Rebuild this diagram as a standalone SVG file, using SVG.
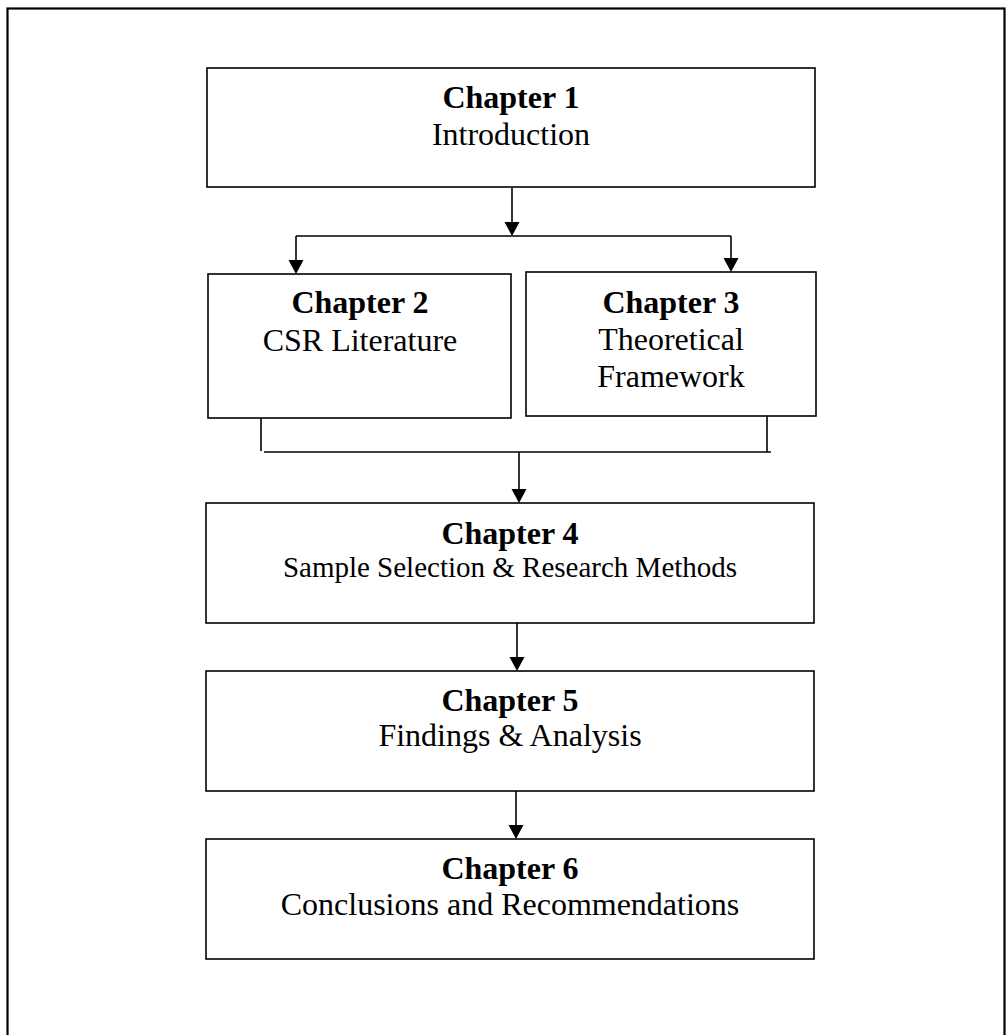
<svg xmlns="http://www.w3.org/2000/svg" width="1008" height="1035" viewBox="0 0 1008 1035">
<defs>
<style>
.box{fill:#fff;stroke:#000;stroke-width:1.6}
.ln{fill:none;stroke:#000;stroke-width:1.6}
.ah{fill:#000}
.b{font-family:"Liberation Serif","Times New Roman",serif;font-weight:bold;font-size:32px;fill:#000;text-anchor:middle}
.r{font-family:"Liberation Serif","Times New Roman",serif;font-size:32px;fill:#000;text-anchor:middle}
.s{font-size:29px}
</style>
</defs>
<rect x="7.5" y="8.5" width="997" height="1060" fill="none" stroke="#000" stroke-width="2.2"/>
<g id="connectors">
<line class="ln" x1="512" y1="188" x2="512" y2="222"/>
<path class="ah" d="M504.5,222 L519.5,222 L512,236 Z"/>
<line class="ln" x1="296" y1="236" x2="731" y2="236"/>
<line class="ln" x1="296" y1="236" x2="296" y2="260"/>
<path class="ah" d="M288.5,260 L303.5,260 L296,274 Z"/>
<line class="ln" x1="731" y1="236" x2="731" y2="258"/>
<path class="ah" d="M723.5,258 L738.5,258 L731,272 Z"/>
<line class="ln" x1="261" y1="415" x2="261" y2="451"/>
<line class="ln" x1="767" y1="416" x2="767" y2="452"/>
<line class="ln" x1="264" y1="452" x2="771" y2="452"/>
<line class="ln" x1="519" y1="452" x2="519" y2="489"/>
<path class="ah" d="M511.5,489 L526.5,489 L519,503 Z"/>
<line class="ln" x1="517" y1="623" x2="517" y2="657"/>
<path class="ah" d="M509.5,657 L524.5,657 L517,671 Z"/>
<line class="ln" x1="516" y1="791" x2="516" y2="825"/>
<path class="ah" d="M508.5,825 L523.5,825 L516,839 Z"/>
</g>
<g id="ch1">
<rect class="box" x="207" y="68" width="608" height="119"/>
<text class="b" x="511" y="108">Chapter 1</text>
<text class="r" x="511" y="145">Introduction</text>
</g>
<g id="ch2">
<rect class="box" x="208" y="274" width="303" height="144"/>
<text class="b" x="360" y="313">Chapter 2</text>
<text class="r" x="360" y="351">CSR Literature</text>
</g>
<g id="ch3">
<rect class="box" x="526" y="272" width="290" height="144"/>
<text class="b" x="671" y="313">Chapter 3</text>
<text class="r" x="671" y="350">Theoretical</text>
<text class="r" x="671" y="387">Framework</text>
</g>
<g id="ch4">
<rect class="box" x="206" y="503" width="608" height="120"/>
<text class="b" x="510" y="544">Chapter 4</text>
<text class="r s" x="510" y="577">Sample Selection &amp; Research Methods</text>
</g>
<g id="ch5">
<rect class="box" x="206" y="671" width="608" height="120"/>
<text class="b" x="510" y="711">Chapter 5</text>
<text class="r" x="510" y="746">Findings &amp; Analysis</text>
</g>
<g id="ch6">
<rect class="box" x="206" y="839" width="608" height="120"/>
<text class="b" x="510" y="879">Chapter 6</text>
<text class="r" x="510" y="915">Conclusions and Recommendations</text>
</g>
</svg>
